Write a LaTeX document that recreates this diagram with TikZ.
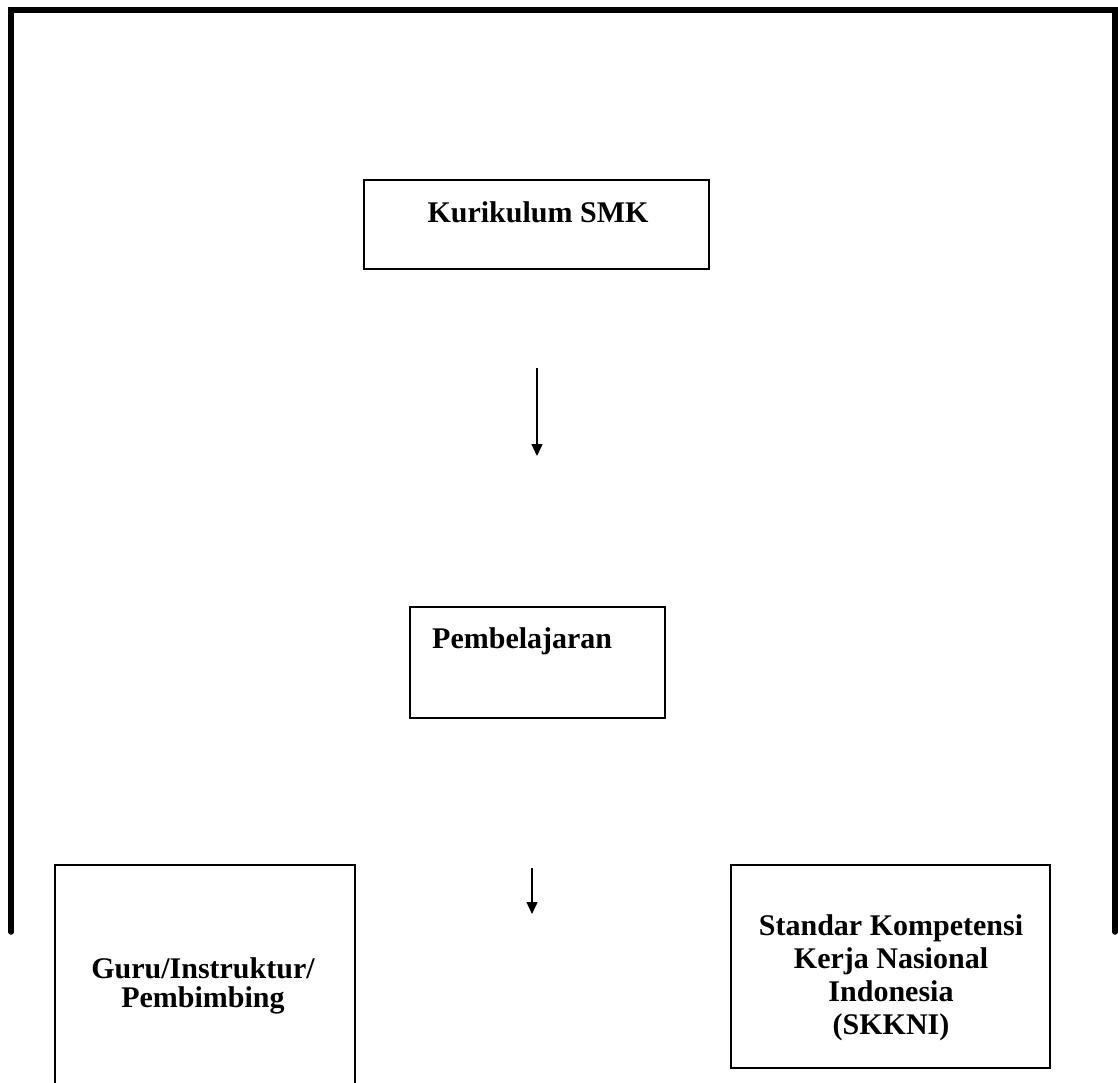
\documentclass[tikz,border=0pt]{standalone}
\usepackage{fontspec}
\setmainfont{Liberation Serif}
\usetikzlibrary{arrows.meta}
\begin{document}
\begin{tikzpicture}[x=1pt,y=-1pt,
  boxstyle/.style={draw,line width=1.6pt},
  lbl/.style={font=\fontsize{30}{30}\selectfont\bfseries,align=center,inner sep=0pt},
  arr/.style={line width=1.4pt,-{Triangle[length=12pt,width=11pt]}},
  frame/.style={line width=5.5pt,line cap=round,line join=miter}]
\useasboundingbox (0,0) rectangle (1118,1082);
% outer frame
\coordinate (fl) at (11,932);
\coordinate (ftl) at (11,10);
\coordinate (ftr) at (1115,10);
\coordinate (fr) at (1115,932);
\draw[frame] (fl) -- (ftl) -- (ftr) -- (fr);
% boxes
\draw[boxstyle] (364,180) rectangle (709,269);
\node[lbl] (kur) at (538,212) {Kurikulum SMK};
\draw[boxstyle] (410,607) rectangle (665,718);
\node[lbl,anchor=base west] (pem) at (432,648) {Pembelajaran};
\draw[boxstyle] (55,1084) -- (55,865) -- (355,865) -- (355,1084);
\node[lbl,font=\fontsize{30}{29}\selectfont\bfseries] (guru) at (203,986) {Guru/Instruktur/\\Pembimbing};
\draw[boxstyle] (731,865) rectangle (1050,1068);
\node[lbl,font=\fontsize{30}{33}\selectfont\bfseries] (skk) at (891,978) {Standar Kompetensi\\Kerja Nasional\\Indonesia\\(SKKNI)};
% arrows
\coordinate (a1s) at (537,368);
\coordinate (a1e) at (537,456);
\draw[arr] (a1s) -- (a1e);
\coordinate (a2s) at (532,868);
\coordinate (a2e) at (532,914);
\draw[arr] (a2s) -- (a2e);
\end{tikzpicture}
\end{document}
